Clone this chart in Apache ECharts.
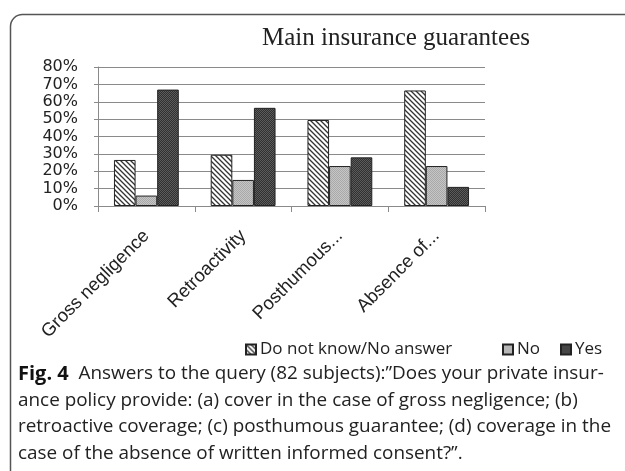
<!DOCTYPE html>
<html>
<head>
<meta charset="utf-8">
<script src="https://cdn.jsdelivr.net/npm/echarts@6/dist/echarts.min.js"></script>
<style>
html,body{margin:0;padding:0;background:#fff;}
#chart{width:625px;height:471px;}
</style>
</head>
<body>
<div id="chart"></div>
<script>
// ===== data =====
const categories = ['Gross negligence', 'Retroactivity', 'Posthumous...', 'Absence of...'];
const dontKnow = [26.5, 29.5, 49.5, 66.5];
const noVals = [6, 15, 23, 23];
const yesVals = [67, 56.5, 28, 11];
const seriesNames = ['Do not know/No answer', 'No', 'Yes'];
const yTicks = [0, 10, 20, 30, 40, 50, 60, 70, 80];

// ===== patterns (Excel-like fills) =====
function hatch() {
    const n = 5;
    const c = document.createElement('canvas'); c.width = n; c.height = n;
    const g = c.getContext('2d');
    g.fillStyle = '#fff'; g.fillRect(0, 0, n, n);
    g.strokeStyle = '#333'; g.lineWidth = 1.3;
    g.beginPath();
    g.moveTo(-1, -1); g.lineTo(n + 1, n + 1);
    g.moveTo(-1, n - 1); g.lineTo(1, n + 1);
    g.moveTo(n - 1, -1); g.lineTo(n + 1, 1);
    g.stroke();
    return { image: c, repeat: 'repeat' };
}
function dots(base, dot) {
    const c = document.createElement('canvas'); c.width = 2; c.height = 2;
    const g = c.getContext('2d');
    g.fillStyle = base; g.fillRect(0, 0, 2, 2);
    g.fillStyle = dot; g.fillRect(0, 0, 1, 1); g.fillRect(1, 1, 1, 1);
    return { image: c, repeat: 'repeat' };
}
const fills = [hatch(), dots('#c6c6c6', '#a8a8a8'), dots('#303030', '#5c5c5c')];

const chart = echarts.init(document.getElementById('chart'));
const barStyle = (i) => ({ color: fills[i], borderColor: '#222', borderWidth: 1 });
const legendText = { fontFamily: 'Open Sans', fontSize: 17, color: '#222', padding: [0, 0, 0, -1] };
const legendBase = { icon: 'rect', itemWidth: 10, itemHeight: 10, top: 336, textStyle: legendText };

chart.setOption({
    backgroundColor: '#fff',
    animation: false,
    title: {
        text: 'Main insurance guarantees',
        left: 391, top: 21, textAlign: 'center',
        textStyle: { fontFamily: 'Liberation Serif', fontSize: 25, fontWeight: 'normal', color: '#222' }
    },
    legend: [
        Object.assign({ data: [seriesNames[0]], left: 240 }, legendBase),
        Object.assign({ data: [seriesNames[1]], left: 497 }, legendBase),
        Object.assign({ data: [seriesNames[2]], left: 555 }, legendBase)
    ],
    grid: { left: 98, right: 140, top: 67, bottom: 265 },
    xAxis: {
        type: 'category',
        data: categories,
        axisLine: { lineStyle: { color: '#8a8a8a' } },
        axisTick: { show: true, length: 6, lineStyle: { color: '#8a8a8a' } },
        axisLabel: {
            interval: 0, rotate: 45, margin: 27,
            fontFamily: 'Liberation Sans', fontSize: 18.5, color: '#222'
        }
    },
    yAxis: {
        type: 'value',
        min: 0, max: 80, interval: 10,
        axisLine: { show: true, lineStyle: { color: '#8a8a8a' } },
        axisTick: { show: true, length: 4, lineStyle: { color: '#8a8a8a' } },
        splitLine: { lineStyle: { color: '#8a8a8a' } },
        axisLabel: {
            margin: 20, showMinLabel: true, showMaxLabel: true, hideOverlap: false,
            fontFamily: 'DejaVu Sans', fontSize: 16, color: '#222',
            formatter: (v) => yTicks.includes(v) ? v + '%' : ''
        }
    },
    series: [
        { name: seriesNames[0], type: 'bar', data: dontKnow, barGap: '0%', barCategoryGap: '33%', itemStyle: barStyle(0) },
        { name: seriesNames[1], type: 'bar', data: noVals, itemStyle: barStyle(1) },
        { name: seriesNames[2], type: 'bar', data: yesVals, itemStyle: barStyle(2) }
    ],
    graphic: [
        {
            type: 'rect', left: 8, top: 12,
            shape: { width: 660, height: 520, r: 12 },
            style: { fill: 'none', stroke: '#555', lineWidth: 1.5 }
        },
        {
            type: 'text', left: 18, top: 364,
            style: {
                rich: {
                    b: { fontFamily: 'Open Sans', fontWeight: 'bold', fontSize: 20, fill: '#111', lineHeight: 26.4 },
                    n: { fontFamily: 'Open Sans', fontSize: 18.9, fill: '#222', lineHeight: 26.4 }
                },
                text: '{b|Fig. 4}{n|  Answers to the query (82 subjects):\u201dDoes your private insur-}\n' +
                      '{n|ance policy provide: (a) cover in the case of gross negligence; (b)}\n' +
                      '{n|retroactive coverage; (c) posthumous guarantee; (d) coverage in the}\n' +
                      '{n|case of the absence of written informed consent?\u201d.}'
            }
        }
    ]
});
</script>
</body>
</html>
